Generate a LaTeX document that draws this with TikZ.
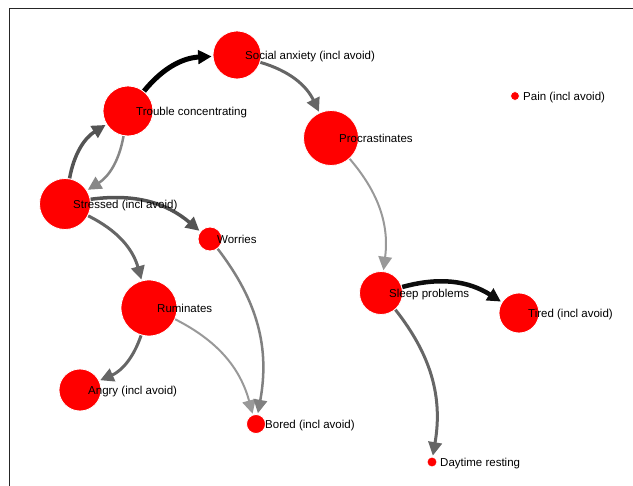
\documentclass[tikz,border=0pt]{standalone}
\usepackage{fontspec}
\setmainfont{Liberation Sans}
\usetikzlibrary{arrows.meta,backgrounds,positioning}

\begin{document}
\begin{tikzpicture}[
            x=1pt,
            y=1pt,
            sym/.style={
                circle,
                fill=red,
                draw=white,
                line width=0.8pt,
                inner sep=0pt
            },
            lab/.style={
                inner sep=0pt,
                anchor=base west,
                yshift=-4.3pt,
                font=\fontsize{11.5}{13}\selectfont
            },
            ed/.style={
                -{Triangle[length=13.5pt,width=13.5pt]},
                bend left=24,
                shorten >=1pt
            }
        ]

            \useasboundingbox (0,0) rectangle (633,-486);

            % Frame
            \draw[black!85, line width=1.5pt] (633,-8.5) -- (9.5,-8.5) -- (9.5,-486);

            % Symptoms
            \node[sym, minimum size=48pt] (sa) at (237,-55) {};
            \node[sym, minimum size=50pt] (tc) at (128,-111) {};
            \node[sym, minimum size=51pt] (st) at (65,-204) {};
            \node[sym, minimum size=24pt] (wo) at (210,-239) {};
            \node[sym, minimum size=55pt] (pr) at (331,-138) {};
            \node[sym, minimum size=9pt] (pa) at (515,-96) {};
            \node[sym, minimum size=56pt] (ru) at (149,-308) {};
            \node[sym, minimum size=42pt] (an) at (80,-390) {};
            \node[sym, minimum size=19pt] (bo) at (256,-424) {};
            \node[sym, minimum size=43pt] (sl) at (381,-293) {};
            \node[sym, minimum size=40pt] (ti) at (519,-313) {};
            \node[sym, minimum size=10pt] (dr) at (432,-462) {};

            % Links
            \begin{scope}[on background layer]
                \draw[ed, black, line width=5pt] (tc) to (sa);
                \draw[ed, black!60, line width=3pt] (sa) to (pr);
                \draw[ed, black!40, line width=2pt] (pr) to (sl);
                \draw[ed, black!95, line width=4.5pt] (sl) to (ti);
                \draw[ed, black!60, line width=3pt] (sl) to (dr);
                \draw[ed, black!67, line width=3.5pt] (st) to (tc);
                \draw[ed, black!47, line width=2.5pt] (tc) to (st);
                \draw[ed, black!67, line width=3.5pt] (st) to (wo);
                \draw[ed, black!60, line width=3pt] (st) to (ru);
                \draw[ed, black!60, line width=3pt] (ru) to (an);
                \draw[ed, black!40, line width=2pt] (ru) to (bo);
                \draw[ed, black!50, line width=2.5pt] (wo) to (bo);
            \end{scope}

            % Labels
            \node[right=8pt of sa.center, lab] (sa-l) {Social anxiety (incl avoid)};
            \node[right=8pt of tc.center, lab] (tc-l) {Trouble concentrating};
            \node[right=8pt of st.center, lab] (st-l) {Stressed (incl avoid)};
            \node[right=7pt of wo.center, lab] (wo-l) {Worries};
            \node[right=8pt of pr.center, lab] (pr-l) {Procrastinates};
            \node[right=8pt of pa.center, lab] (pa-l) {Pain (incl avoid)};
            \node[right=8pt of ru.center, lab] (ru-l) {Ruminates};
            \node[right=8pt of an.center, lab] (an-l) {Angry (incl avoid)};
            \node[right=9pt of bo.center, lab] (bo-l) {Bored (incl avoid)};
            \node[right=8pt of sl.center, lab] (sl-l) {Sleep problems};
            \node[right=9pt of ti.center, lab] (ti-l) {Tired (incl avoid)};
            \node[right=8pt of dr.center, lab] (dr-l) {Daytime resting};

        \end{tikzpicture}
\end{document}
